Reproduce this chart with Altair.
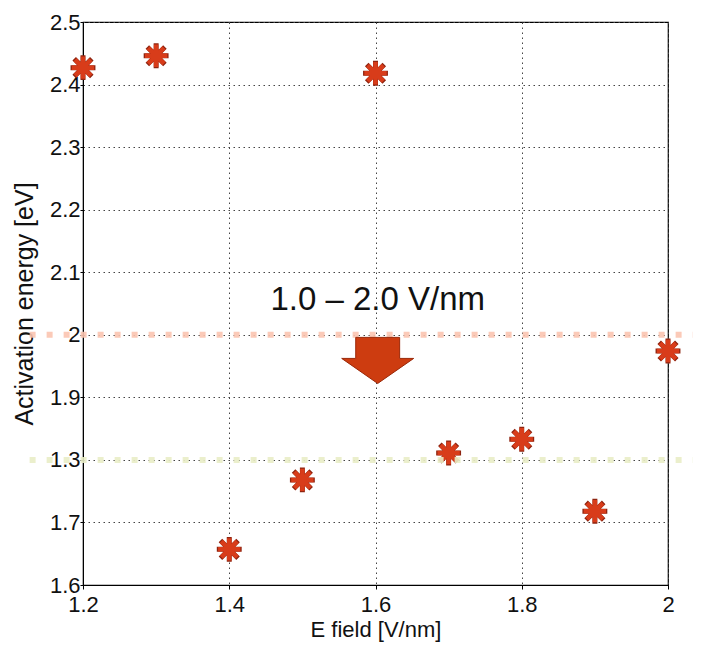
import altair as alt
import pandas as pd

# ---- data ----
e_field = [1.2, 1.3, 1.4, 1.5, 1.6, 1.7, 1.8, 1.9, 2.0]
activation = [2.427, 2.446, 1.657, 1.768, 2.418, 1.811, 1.833, 1.718, 1.974]

x_ticks = [1.2, 1.4, 1.6, 1.8, 2.0]
y_ticks = [1.6, 1.7, 1.8, 1.9, 2.0, 2.1, 2.2, 2.3, 2.4, 2.5]

ref_levels = [2.0, 1.8]
ref_colors = ["#fbc4b0", "#e9edc6"]
ref_x_start = [1.127, 1.127]
ref_x_end = [2.034, 2.034]

label_text = ["1.0 \u2013 2.0 V/nm"]
label_x = [1.603]
label_y = [2.055]

arrow_x = [1.603]
arrow_y = [1.959]

FONT = "Liberation Sans"

pts = pd.DataFrame({"x": e_field, "y": activation})
refs = pd.DataFrame({"y": ref_levels, "c": ref_colors, "x": ref_x_start, "x2": ref_x_end})
lab = pd.DataFrame({"x": label_x, "y": label_y, "t": label_text})
arr = pd.DataFrame({"x": arrow_x, "y": arrow_y})

xscale = alt.Scale(domain=[1.2, 2.0], nice=False, zero=False)
yscale = alt.Scale(domain=[1.6, 2.5], nice=False, zero=False)

x_axis = alt.Axis(
    values=x_ticks, format=".1~f", title="E field [V/nm]", labelFlush=False,
    labelFont=FONT, labelFontSize=22, labelColor="#111", labelPadding=5,
    tickSize=4, tickColor="#000", domainColor="#000",
    titleFont=FONT, titleFontSize=22, titleFontWeight="normal", titleColor="#111",
    titlePadding=4, grid=True, gridColor="#444", gridDash=[1.5, 3.5], gridWidth=1,
)
y_axis = alt.Axis(
    values=y_ticks, title="Activation energy [eV]", labelFlush=False,
    labelExpr="datum.value > 1.79 && datum.value < 1.81 ? '1.3' : format(datum.value, '.1~f')",
    labelFont=FONT, labelFontSize=22, labelColor="#111", labelPadding=0,
    tickSize=3, tickColor="#000", domainColor="#000",
    titleFont=FONT, titleFontSize=25, titleFontWeight="normal", titleColor="#111",
    titlePadding=12, grid=True, gridColor="#444", gridDash=[1.5, 3.5], gridWidth=1,
)

star = ("M -1 -0.2 L 1 -0.2 L 1 0.2 L -1 0.2 Z "
        "M -0.2 -1 L 0.2 -1 L 0.2 1 L -0.2 1 Z "
        "M -0.5657 -0.8485 L 0.8485 0.5657 L 0.5657 0.8485 L -0.8485 -0.5657 Z "
        "M -0.8485 0.5657 L 0.5657 -0.8485 L 0.8485 -0.5657 L -0.5657 0.8485 Z")

arrow_shape = ("M -0.61 -0.64 L 0.61 -0.64 L 0.61 -0.056 L 1 -0.056 "
               "L 0 0.64 L -1 -0.056 L -0.61 -0.056 Z")

points_back = alt.Chart(pts).mark_point(
    shape=star, size=620, filled=True, fill="#8e2410", strokeWidth=0, opacity=1
).encode(
    x=alt.X("x:Q", scale=xscale, axis=x_axis),
    y=alt.Y("y:Q", scale=yscale, axis=y_axis),
)

points = alt.Chart(pts).mark_point(
    shape=star, size=500, filled=True, fill="#d83c1a", strokeWidth=0, opacity=1
).encode(
    x=alt.X("x:Q", scale=xscale),
    y=alt.Y("y:Q", scale=yscale),
)

rules = alt.Chart(refs).mark_rule(strokeWidth=6, strokeDash=[6, 11], opacity=0.9).encode(
    x=alt.X("x:Q", scale=xscale),
    x2="x2:Q",
    y=alt.Y("y:Q", scale=yscale),
    color=alt.Color("c:N", scale=None),
)

text = alt.Chart(lab).mark_text(
    font=FONT, fontSize=33, color="#111", align="center", baseline="middle"
).encode(
    x=alt.X("x:Q", scale=xscale),
    y=alt.Y("y:Q", scale=yscale),
    text="t:N",
)

arrow = alt.Chart(arr).mark_point(
    shape=arrow_shape, size=5184, filled=True, fill="#cd3c10", stroke="#9a2808",
    strokeWidth=1, opacity=1
).encode(
    x=alt.X("x:Q", scale=xscale),
    y=alt.Y("y:Q", scale=yscale),
)

chart = alt.layer(points_back, points, rules, text, arrow).properties(
    width=585, height=563,
    autosize=alt.AutoSizeParams(type="none"),
    padding={"left": 75, "top": 14, "right": 26, "bottom": 60},
    background="white",
).configure_view(stroke="#000", strokeWidth=1.2)

chart.save("out.html", embed_options={"renderer": "svg", "actions": False})
